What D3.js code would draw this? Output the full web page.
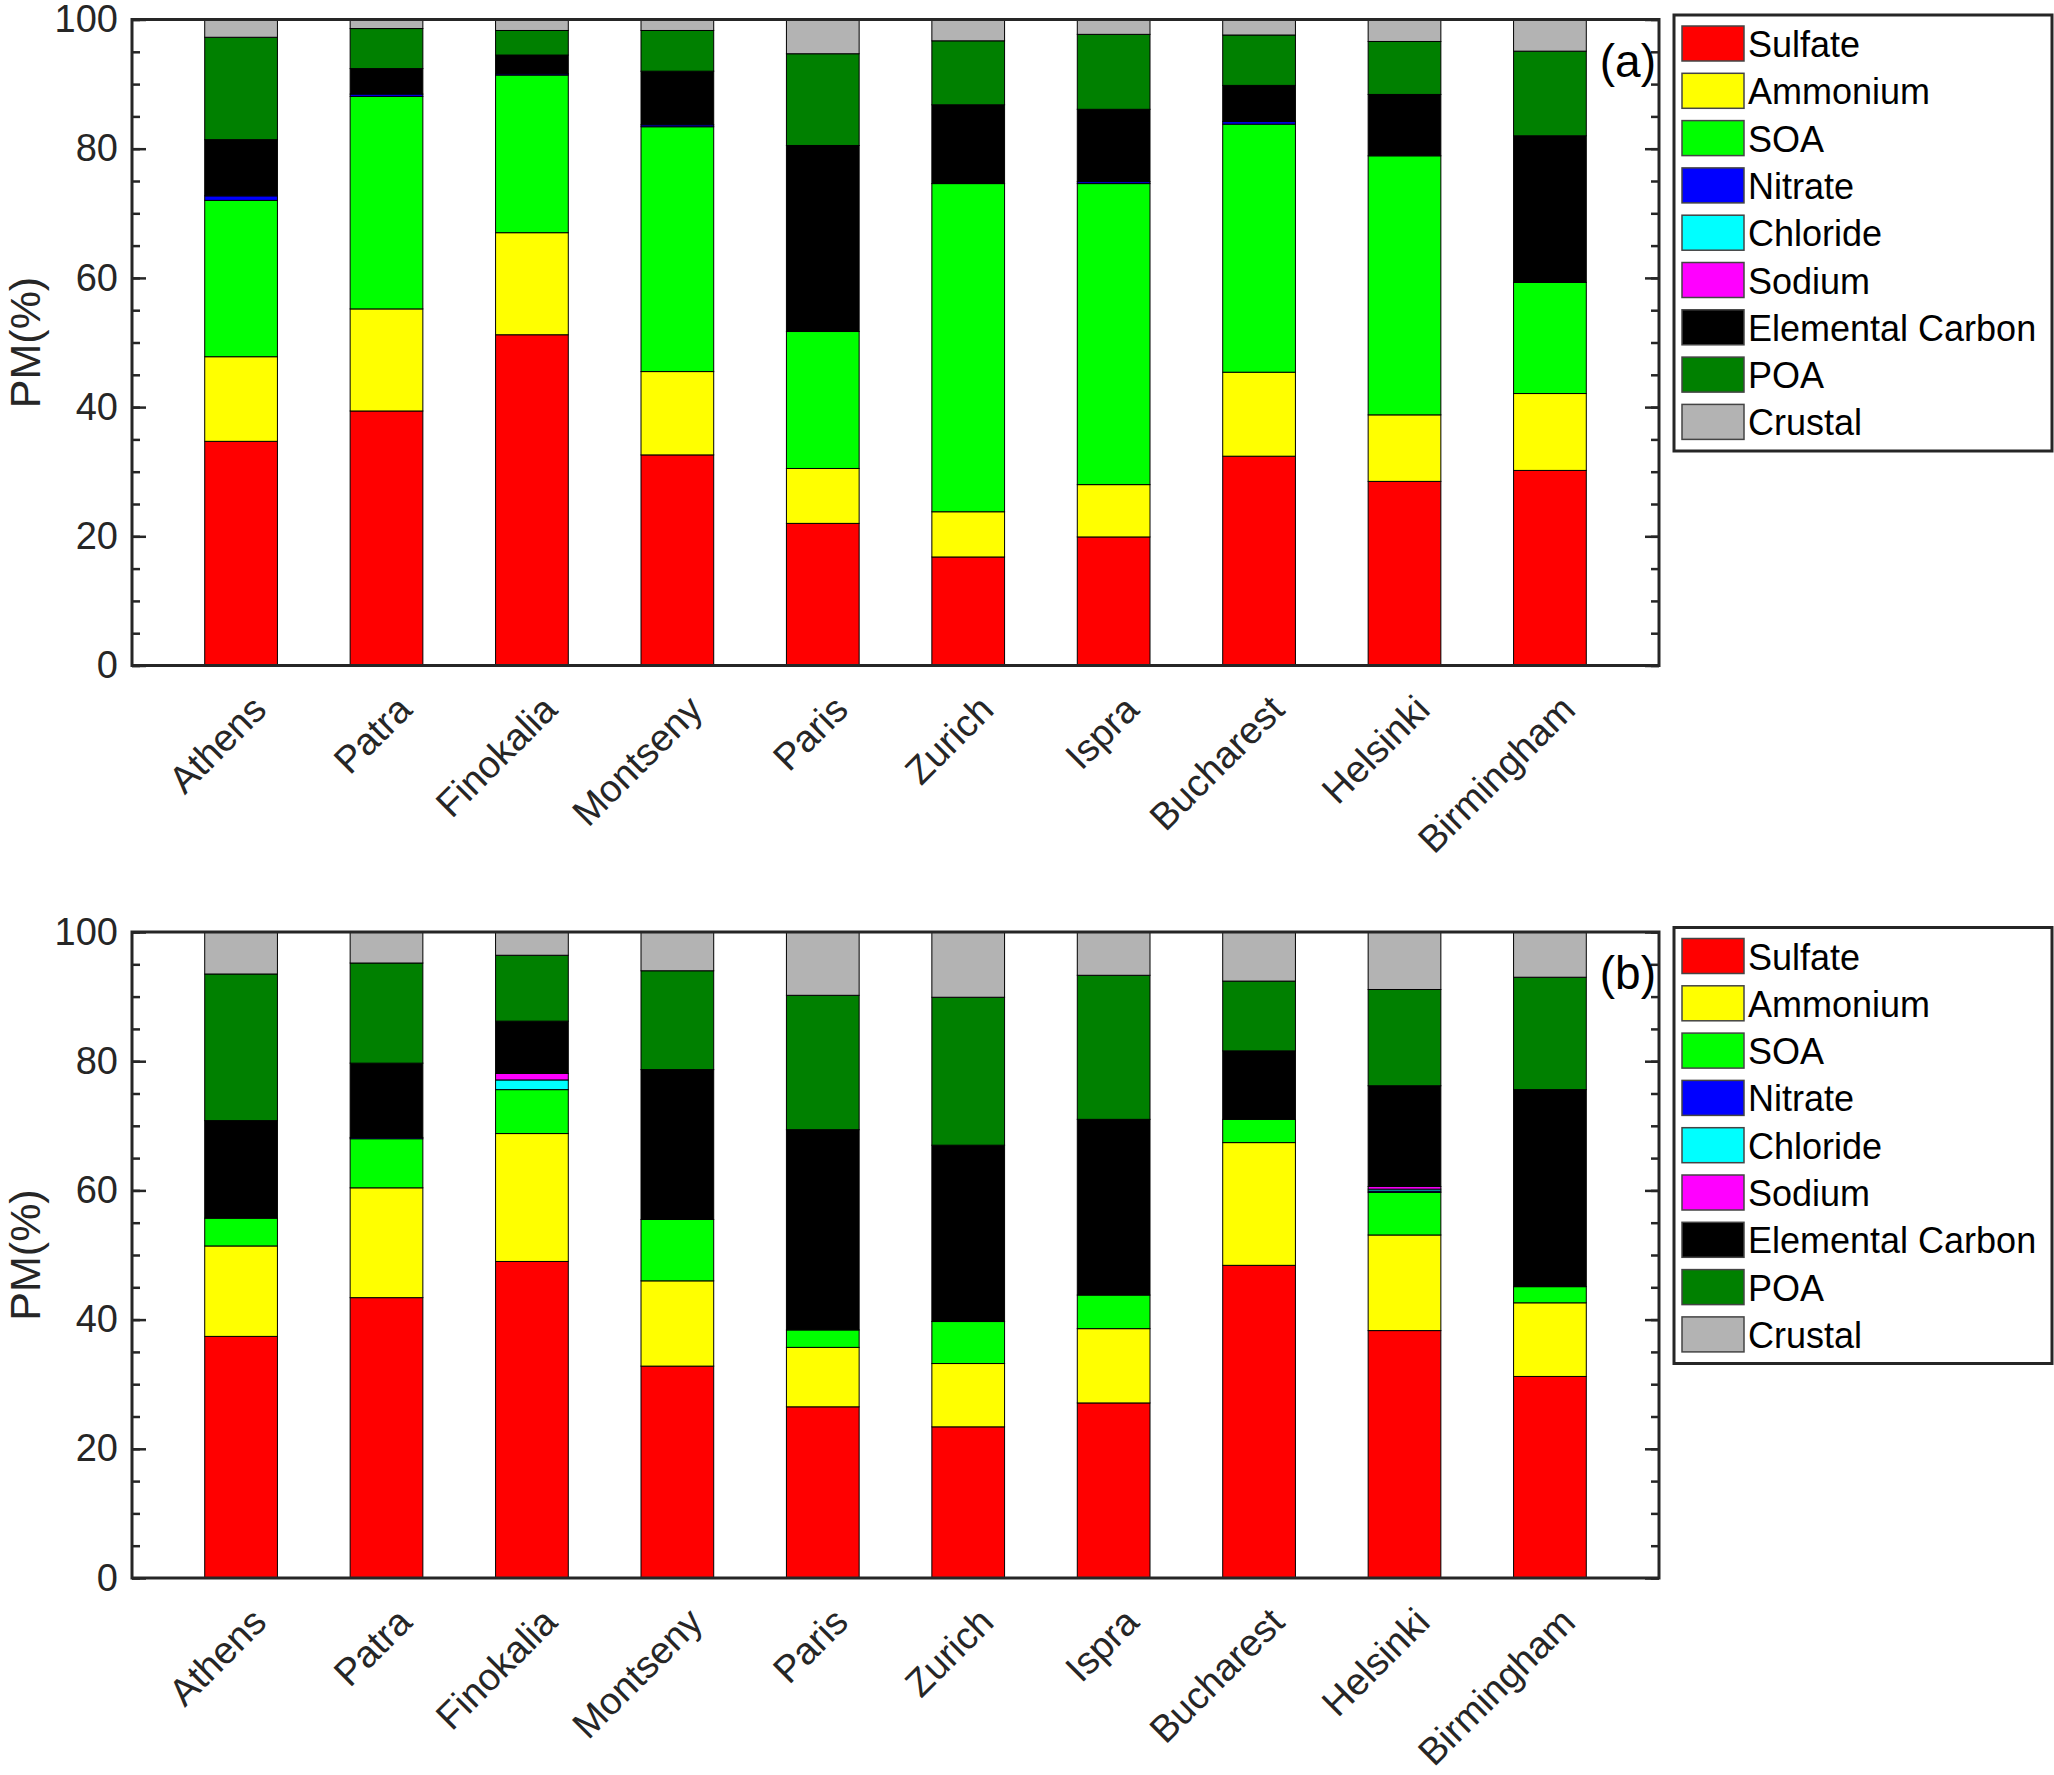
<!DOCTYPE html>
<html>
<head>
<meta charset="utf-8">
<script src="https://cdn.jsdelivr.net/npm/d3@7"></script>
<style>
  body { margin: 0; background: #fff; }
  text { font-family: "Liberation Sans", Arial, sans-serif; fill: #262626; }
</style>
</head>
<body>
<svg id="chart" width="2054" height="1775"></svg>
<script>
let cities = ["Athens", "Patra", "Finokalia", "Montseny", "Paris", "Zurich", "Ispra", "Bucharest", "Helsinki", "Birmingham"];
let species = ["Sulfate", "Ammonium", "SOA", "Nitrate", "Chloride", "Sodium", "Elemental Carbon", "POA", "Crustal"];
let colors = ["#ff0000", "#ffff00", "#00ff00", "#0000ff", "#00ffff", "#ff00ff", "#000000", "#008000", "#b3b3b3"];
let yTicks = [0, 20, 40, 60, 80, 100];

// panel (a)
let sulfateA  = [34.7, 39.4, 51.2, 32.6, 22.0, 16.8, 19.9, 32.4, 28.5, 30.2];
let ammoniumA = [13.1, 15.8, 15.8, 12.9, 8.5, 7.0, 8.1, 13.0, 10.3, 11.9];
let soaA      = [24.2, 32.9, 24.4, 37.9, 21.2, 50.8, 46.6, 38.4, 40.1, 17.2];
let nitrateA  = [0.7, 0.35, 0.2, 0.3, 0, 0, 0.3, 0.4, 0, 0];
let chlorideA = [0, 0, 0, 0, 0, 0, 0, 0, 0, 0];
let sodiumA   = [0, 0, 0, 0, 0, 0, 0, 0, 0, 0];
let ecA       = [8.7, 3.95, 2.9, 8.3, 28.8, 12.2, 11.2, 5.6, 9.5, 22.7];
let poaA      = [15.85, 6.2, 3.8, 6.3, 14.2, 9.9, 11.6, 7.8, 8.2, 13.1];
let crustalA  = [2.75, 1.4, 1.7, 1.7, 5.3, 3.3, 2.3, 2.4, 3.4, 4.9];

// panel (b)
let sulfateB  = [37.4, 43.4, 49.0, 32.8, 26.5, 23.4, 27.1, 48.4, 38.3, 31.2];
let ammoniumB = [14.0, 17.0, 19.8, 13.2, 9.2, 9.8, 11.5, 19.0, 14.8, 11.4];
let soaB      = [4.3, 7.6, 6.8, 9.5, 2.7, 6.5, 5.2, 3.6, 6.6, 2.5];
let nitrateB  = [0, 0.2, 0, 0, 0, 0, 0, 0, 0.2, 0];
let chlorideB = [0, 0, 1.5, 0, 0, 0, 0, 0, 0.3, 0];
let sodiumB   = [0, 0, 1.0, 0, 0, 0, 0, 0, 0.4, 0];
let ecB       = [15.1, 11.5, 8.1, 23.2, 31.0, 27.3, 27.2, 10.6, 15.6, 30.5];
let poaB      = [22.7, 15.5, 10.2, 15.3, 20.8, 22.9, 22.3, 10.8, 14.9, 17.4];
let crustalB  = [6.5, 4.8, 3.6, 6.0, 9.8, 10.1, 6.7, 7.6, 8.9, 7.0];

let panels = [
  { label: "(a)", top: 19.5, series: [sulfateA, ammoniumA, soaA, nitrateA, chlorideA, sodiumA, ecA, poaA, crustalA] },
  { label: "(b)", top: 932, series: [sulfateB, ammoniumB, soaB, nitrateB, chlorideB, sodiumB, ecB, poaB, crustalB] }
];

let left = 132, right = 1659;
let height = 646;
let axisColor = "#262626";

let svg = d3.select("#chart");

let xScale = d3.scaleLinear().domain([0.25, 10.75]).range([0, right - left]);
let yScale = d3.scaleLinear().domain([0, 100]).range([height, 0]);
let barWidth = xScale(1.25) - xScale(0.75);

panels.forEach(function(p) {
  let rows = cities.map(function(c, i) {
    let row = { city: c, idx: i + 1 };
    species.forEach(function(s, k) { row[s] = p.series[k][i]; });
    return row;
  });
  let stacked = d3.stack().keys(species)(rows);

  let graph = svg.append("g")
    .attr("transform", "translate(" + left + "," + p.top + ")");

  // bars
  stacked.forEach(function(layer, k) {
    graph.append("g")
      .selectAll("rect")
      .data(layer.filter(function(d) { return d[1] - d[0] > 0; }))
      .enter()
      .append("rect")
      .attr("x", function(d) { return xScale(d.data.idx) - barWidth / 2; })
      .attr("y", function(d) { return yScale(d[1]); })
      .attr("width", barWidth)
      .attr("height", function(d) { return yScale(d[0]) - yScale(d[1]); })
      .style("fill", colors[k])
      .style("stroke", "#000")
      .style("stroke-width", 1);
  });

  // major + minor ticks, inward on both sides
  let yAxis = d3.axisLeft(yScale).tickValues(yTicks).tickSize(-14).tickPadding(14);
  let yMinor = d3.axisLeft(yScale).tickValues(d3.range(0, 101, 5)).tickSize(-8).tickFormat("");
  let yAxisR = d3.axisRight(yScale).tickValues(yTicks).tickSize(-14).tickFormat("");
  let yMinorR = d3.axisRight(yScale).tickValues(d3.range(0, 101, 5)).tickSize(-8).tickFormat("");

  graph.append("g").attr("class", "y axis").call(yMinor);
  graph.append("g").attr("class", "y axis").call(yAxis);
  graph.append("g").attr("class", "y axis").attr("transform", "translate(" + (right - left) + ",0)").call(yMinorR);
  graph.append("g").attr("class", "y axis").attr("transform", "translate(" + (right - left) + ",0)").call(yAxisR);

  graph.selectAll(".axis .domain").remove();
  graph.selectAll(".axis line").style("stroke", axisColor).style("stroke-width", 2.5);
  graph.selectAll(".axis text")
    .style("font-size", "38px")
    .style("fill", axisColor)
    .style("font-family", "'Liberation Sans', Arial, sans-serif");

  // box
  graph.append("rect")
    .attr("x", 0).attr("y", 0)
    .attr("width", right - left).attr("height", height)
    .style("fill", "none")
    .style("stroke", axisColor)
    .style("stroke-width", 3);

  // x labels, rotated
  graph.append("g")
    .selectAll("text")
    .data(cities)
    .enter()
    .append("text")
    .attr("transform", function(d, i) {
      return "translate(" + (xScale(i + 1) + 8) + "," + (height + 27) + ") rotate(-45)";
    })
    .attr("dy", "0.72em")
    .style("text-anchor", "end")
    .style("font-size", "38px")
    .text(function(d) { return d; });

  // y label
  graph.append("text")
    .attr("transform", "translate(" + (40 - left) + "," + (height / 2) + ") rotate(-90)")
    .style("text-anchor", "middle")
    .style("font-size", "43px")
    .text("PM(%)");

  // panel tag
  graph.append("text")
    .attr("x", right - left - 3)
    .attr("y", 57)
    .style("text-anchor", "end")
    .style("font-size", "46px")
    .style("fill", "#000")
    .text(p.label);

  // legend
  let legend = svg.append("g")
    .attr("transform", "translate(1674," + (p.top - 4.5) + ")");
  legend.append("rect")
    .attr("width", 378)
    .attr("height", 436)
    .style("fill", "#fff")
    .style("stroke", axisColor)
    .style("stroke-width", 3);
  let item = legend.selectAll(".item")
    .data(species)
    .enter()
    .append("g")
    .attr("class", "item")
    .attr("transform", function(d, i) { return "translate(8," + (11 + i * 47.3) + ")"; });
  item.append("rect")
    .attr("width", 62)
    .attr("height", 35)
    .style("fill", function(d, i) { return colors[i]; })
    .style("stroke", "#444")
    .style("stroke-width", 1.5);
  item.append("text")
    .attr("x", 66)
    .attr("y", 31)
    .style("font-size", "36px")
    .style("fill", "#000")
    .text(function(d) { return d; });
});
</script>
</body>
</html>
